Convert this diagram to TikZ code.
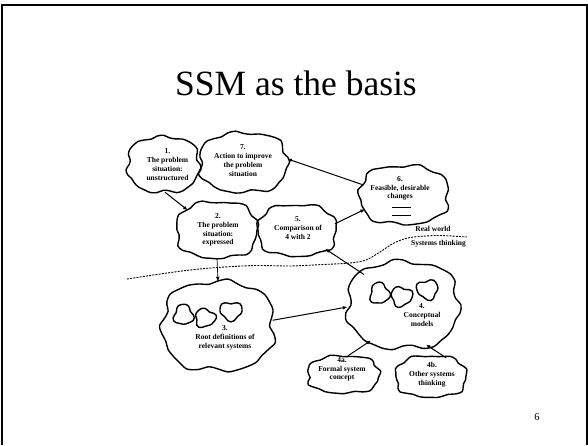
\documentclass[tikz,border=0pt]{standalone}
\usepackage{fontspec}
\setmainfont{Liberation Serif}
\usetikzlibrary{shapes.geometric,arrows.meta}

% wobbly outline: centre x, centre y, half width, half height, phase
\newcommand{\cloudline}[5]{%
  \draw[cloud] plot[smooth cycle, samples=36, domain=0:350, variable=\t]
    ({#1+#3*(1+0.045*(1-cos(4*\t))+0.045*sin(7*\t+#5)+0.03*sin(11*\t+2*#5))*cos(\t)},
     {#2+#4*(1+0.045*(1-cos(4*\t))+0.045*sin(7*\t+#5)+0.03*sin(11*\t+2*#5))*sin(\t)});
}
\newcommand{\blobline}[5]{%
  \draw[cloud] plot[smooth cycle, samples=24, domain=0:345, variable=\t]
    ({#1+#3*(1+0.14*sin(3*\t+#5)+0.07*sin(5*\t+2*#5))*cos(\t)},
     {#2+#4*(1+0.14*sin(3*\t+#5)+0.07*sin(5*\t+2*#5))*sin(\t)});
}

\begin{document}
\begin{tikzpicture}[x=1pt,y=-1pt]

    \tikzset{
      cloud/.style={line width=1.4pt, line join=round},
      cnode/.style={ellipse, inner sep=0pt, draw=none},
      lbl/.style={font=\fontsize{7.5}{8.8}\selectfont\bfseries, align=center, inner sep=0pt},
      arr/.style={-{Latex[length=5pt,width=3.6pt]}, line width=1pt},
      border/.style={line width=2pt},
    }
    \useasboundingbox (0,0) rectangle (588,445);
    \draw[border] (1.5,445) -- (1.5,5) -- (586.5,5) -- (586.5,445);

    \node[font=\fontsize{35.5}{40}\selectfont, anchor=base] (title) at (296,95) {SSM as the basis};

    % clouds
    \node[cnode, minimum width=71pt, minimum height=55pt] (c1) at (163.5,164.5) {};
    \node[cnode, minimum width=87pt, minimum height=59pt] (c7) at (243.5,162.5) {};
    \node[cnode, minimum width=80pt, minimum height=56pt] (c2) at (217,230) {};
    \node[cnode, minimum width=78pt, minimum height=51pt] (c5) at (297,230.5) {};
    \node[cnode, minimum width=88pt, minimum height=58pt] (c6) at (404,195) {};
    \node[cnode, minimum width=110pt, minimum height=88pt] (c3) at (218,326) {};
    \node[cnode, minimum width=110pt, minimum height=86pt] (c4) at (403,305) {};
    \node[cnode, minimum width=71pt, minimum height=37pt] (c4a) at (343.5,374.5) {};
    \node[cnode, minimum width=70pt, minimum height=41pt] (c4b) at (431,376.5) {};

    \cloudline{163.5}{164.5}{35.5}{27.5}{20}
    \cloudline{243.5}{162.5}{43.5}{29.5}{75}
    \cloudline{217}{230}{40}{28}{140}
    \cloudline{297}{230.5}{39}{25.5}{200}
    \cloudline{404}{195}{44}{29}{260}
    \cloudline{218}{326}{55}{44}{310}
    \cloudline{403}{305}{55}{43}{35}
    \cloudline{343.5}{374.5}{35.5}{18.5}{110}
    \cloudline{431}{376.5}{35}{20.5}{170}

    \blobline{183.5}{315}{9.5}{10}{10}
    \blobline{205}{318}{10}{9}{90}
    \blobline{231}{311}{11}{9}{180}
    \blobline{379.5}{293.5}{9.5}{10.5}{40}
    \blobline{401.5}{296.5}{10.5}{9.5}{130}
    \blobline{427.5}{289.5}{10.5}{9.5}{220}

    % texts
    \node[lbl] (t1) at (167.5,164.5) {1.\\The problem\\situation:\\unstructured};
    \node[lbl] (t7) at (243,160.5) {7.\\Action to improve\\the problem\\situation};
    \node[lbl] (t2) at (218,230) {2.\\The problem\\situation:\\expressed};
    \node[lbl] (t5) at (298,228) {5.\\Comparison of\\4 with 2};
    \node[lbl] (t6) at (400,188.5) {6.\\Feasible, desirable\\changes};
    \draw[line width=1pt] (392,207) -- (411,207) (392,215) -- (411,215);
    \node[lbl] (t3) at (225,338) {3.\\Root definitions of\\relevant systems};
    \node[lbl] (t4) at (422,315) {4.\\Conceptual\\models};
    \node[lbl] (t4a) at (342,369.5) {4a.\\Formal system\\concept};
    \node[lbl] (t4b) at (432,375) {4b.\\Other systems\\thinking};

    \node[lbl] (rw) at (433,229) {Real world};
    \node[lbl] (st) at (438.5,243.5) {Systems thinking};
    \draw[line width=0.9pt, dash pattern=on 2pt off 1.2pt] plot[smooth] coordinates {(127,279) (160,274) (190,270) (217,267.5) (255,265.5) (290,266) (323,264.5) (350,263) (366,260) (380,252) (394,243) (410,237.5) (438,235.5) (467,237)};

    \node[font=\fontsize{10.5}{12}\selectfont] (pg) at (537,417) {6};

    % arrows
    \draw[arr] (c1.-87) -- (c2.146);
    \draw[arr] (c6.166) -- (c7.5);
    \draw[arr] (c5.10) -- (c6.200);
    \draw[arr, line width=0.7pt] (c2.south) -- (c3.north);
    \draw[arr] (c3.6) -- (c4.182);
    \draw[arr] (c4.142) -- (c5.-33);
    \draw[arr] (c4a.77) -- (c4.228);
    \draw[arr] (c4b.51) -- (c4.300);

\end{tikzpicture}
\end{document}
